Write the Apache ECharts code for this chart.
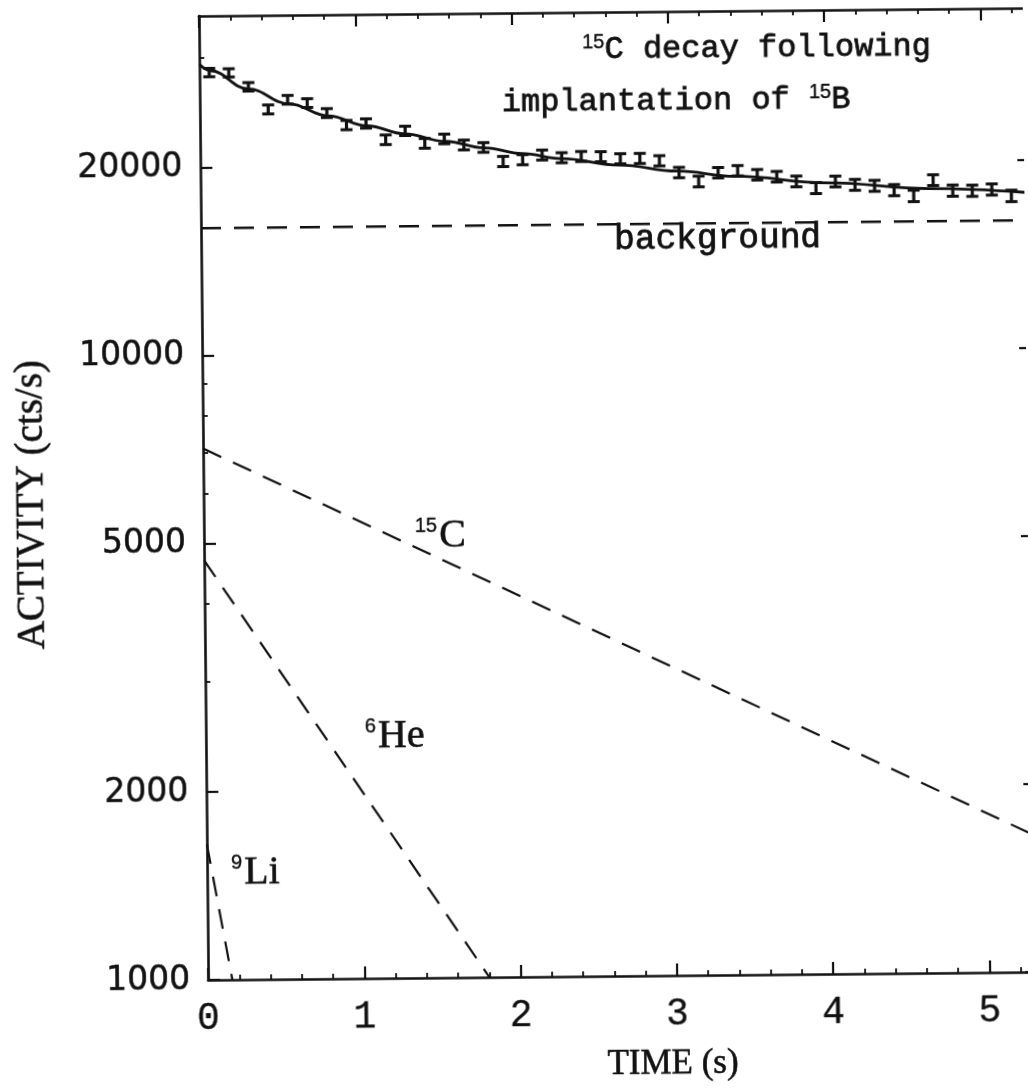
<!DOCTYPE html>
<html><head><meta charset="utf-8">
<script src="https://cdn.jsdelivr.net/npm/echarts@6/dist/echarts.min.js"></script>
<style>
html,body{margin:0;padding:0;background:#fff;overflow:hidden;}
#chart{width:1028px;height:1088px;transform:rotate(-0.55deg);transform-origin:514px 544px;}
</style></head><body><div id="chart"></div>
<script>
// measured data points (bin centres, s) and activity (cts/s) with errors
const times = [0.0625,0.1875,0.3125,0.4375,0.5625,0.6875,0.8125,0.9375,1.0625,1.1875,1.3125,1.4375,1.5625,1.6875,1.8125,1.9375,2.0625,2.1875,2.3125,2.4375,2.5625,2.6875,2.8125,2.9375,3.0625,3.1875,3.3125,3.4375,3.5625,3.6875,3.8125,3.9375,4.0625,4.1875,4.3125,4.4375,4.5625,4.6875,4.8125,4.9375,5.0625,5.1875];
const activity = [28400,28350,26910,24740,25620,25290,24360,23290,23410,22030,22750,21710,22050,21550,21340,20250,20370,20710,20490,20570,20540,20370,20380,20190,19320,18680,19280,19410,19110,18960,18620,18160,18590,18350,18270,17970,17580,18620,17900,17880,17950,17520];
const errors = [440,430,420,410,410,410,400,400,400,390,390,390,390,390,380,380,380,380,380,380,380,380,380,380,370,370,370,370,370,370,370,370,370,370,370,370,370,370,370,370,370,370];
// total fit curve
const fitT = [0,0.07,0.31,0.57,0.82,1.07,1.31,1.57,1.82,2.06,2.31,2.68,3.05,3.42,4.01,4.66,5.33];
const fitV = [29300,28600,26700,25250,24100,23200,22500,21850,21300,20830,20420,19900,19420,19020,18500,18050,17690];
// components (straight lines on the log scale)
const bgT = [0,5.33],   bgV = [16000,16000];
const c15T = [0,5.33],  c15V = [7100,1640];
const he6T = [0,1.80],  he6V = [4700,1000];
const li9T = [0,0.155], li9V = [1650,1000];
// ticks
const xMajor = [0,1,2,3,4,5];
const xMinor = [0.2,0.4,0.6,0.8,1.2,1.4,1.6,1.8,2.2,2.4,2.6,2.8,3.2,3.4,3.6,3.8,4.2,4.4,4.6,4.8,5.2];
const yMajor = [1000,2000,5000,10000,20000];
const yMinor = [3000,4000,6000,7000,8000,9000,30000];

const INK = '#111';
const chart = echarts.init(document.getElementById('chart'), null, {renderer:'canvas'});

function xAx(pos, major, showLine, showLabel){
  return {
    type:'value', min:0, max:5.33, position:pos, interval:1,
    axisLine:{show:showLine, onZero:false, lineStyle:{color:INK, width:2.6}},
    axisTick:{show:true, inside:true, length: major?12:5, customValues: major?xMajor:xMinor, lineStyle:{color:INK, width: major?2.2:1.8}},
    axisLabel:{show:showLabel, customValues:xMajor, fontFamily:'Liberation Mono', fontSize:38, color:INK, margin:20,
               textBorderColor:INK, textBorderWidth:0.3,
               formatter:function(v){return String(v);}},
    splitLine:{show:false}, minorTick:{show:false}
  };
}
function yAx(pos, major, showLine, showLabel){
  return {
    type:'log', logBase:10, min:1000, max:35000, position:pos,
    axisLine:{show:showLine, onZero:false, lineStyle:{color:INK, width:2.6}},
    axisTick:{show:true, inside:true, length: major?(pos==='right'?16:12):5, customValues: major?yMajor:yMinor, lineStyle:{color:INK, width: major?2.2:1.8}},
    axisLabel:{show:showLabel, customValues:yMajor, fontFamily:'DejaVu Sans', fontSize:33, color:INK, margin:18,
               textBorderColor:INK, textBorderWidth:0.5,
               formatter:function(v){return String(Math.round(v));}},
    splitLine:{show:false}, minorTick:{show:false}
  };
}

const dashed = [20,13];
function comp(T, V){ return T.map((t,i)=>[t, V[i]]); }

const B = {stroke:INK, lineWidth:0.8};
const supS = Object.assign({fontFamily:'Liberation Sans', fontSize:20, lineHeight:26, verticalAlign:'top', fill:INK, color:INK}, {stroke:INK, lineWidth:0.4});
const monoM = Object.assign({fontFamily:'Liberation Mono', fontSize:32, lineHeight:36, fill:INK, color:INK}, B);
const monoL = Object.assign({fontFamily:'Liberation Mono', fontSize:34.5, lineHeight:38, fill:INK, color:INK}, B);
const serL = Object.assign({fontFamily:'Liberation Serif', fontSize:40, lineHeight:40, fill:INK, color:INK}, {stroke:INK, lineWidth:0.6});
const supI = Object.assign({fontFamily:'Liberation Sans', fontSize:20, lineHeight:24, verticalAlign:'top', fill:INK, color:INK, padding:[0,2,0,0]}, {stroke:INK, lineWidth:0.4});

function label(x, y, text){
  return {
    type:'text', x:x, y:y, silent:true,
    style:{text:text, rich:{s:supS, m:monoM, l:monoL, r:serL, i:supI}, fill:INK, align:'left', verticalAlign:'middle', textAlign:'left', textVerticalAlign:'middle'}
  };
}

chart.setOption({
  animation:false,
  backgroundColor:'#fff',
  grid:{left:204, top:13, width:833, height:964, containLabel:false, outerBoundsMode:'none'},
  xAxis:[ xAx('bottom',true,true,true), xAx('bottom',false,false,false), xAx('top',true,true,false), xAx('top',false,false,false) ],
  yAxis:[ yAx('left',true,true,true), yAx('left',false,false,false), yAx('right',true,true,false), yAx('right',false,false,false) ],
  series:[
    {type:'line', name:'background', data:comp(bgT,bgV), showSymbol:false, symbol:'none', lineStyle:{color:INK, width:2.4, type:dashed}},
    {type:'line', name:'15C', data:comp(c15T,c15V), showSymbol:false, symbol:'none', lineStyle:{color:INK, width:2.2, type:dashed}},
    {type:'line', name:'6He', data:comp(he6T,he6V), showSymbol:false, symbol:'none', lineStyle:{color:INK, width:2.2, type:dashed}},
    {type:'line', name:'9Li', data:comp(li9T,li9V), showSymbol:false, symbol:'none', lineStyle:{color:INK, width:2.2, type:dashed}},
    {type:'line', name:'fit', data:comp(fitT,fitV), showSymbol:false, symbol:'none', smooth:0.4, smoothMonotone:'x', lineStyle:{color:INK, width:2.8}},
    {type:'custom', name:'data', data: times.map((t,i)=>[t, activity[i], errors[i]]),
      encode:{x:0, y:1}, z:5,
      renderItem:function(params, api){
        const t = api.value(0), v = api.value(1), e = api.value(2);
        const top = api.coord([t, v+e]), bot = api.coord([t, v-e]);
        const w = 6, st = {stroke:INK, lineWidth:3};
        return {type:'group', children:[
          {type:'line', shape:{x1:top[0], y1:top[1], x2:bot[0], y2:bot[1]}, style:{stroke:INK, lineWidth:3.2}},
          {type:'line', shape:{x1:top[0]-w, y1:top[1], x2:top[0]+w, y2:top[1]}, style:st},
          {type:'line', shape:{x1:bot[0]-w, y1:bot[1], x2:bot[0]+w, y2:bot[1]}, style:st}
        ]};
      }
    }
  ],
  graphic:[
    label(587, 51, '{s|15}{m|C decay following}'),
    label(506, 103, '{m|implantation of }{s|15}{m|B}'),
    label(617, 241, '{l|background}'),
    label(415, 535, '{i|15}{r|C}'),
    label(363, 735, '{i|6}{r|He}'),
    label(228, 870, '{i|9}{r|Li}'),
    {type:'text', x:33, y:500, rotation:Math.PI/2, silent:true,
     style:{text:'ACTIVITY (cts/s)', fontFamily:'Liberation Serif', fontSize:39, fill:INK, stroke:INK, lineWidth:0.6, align:'center', verticalAlign:'middle', textAlign:'center', textVerticalAlign:'middle'}},
    {type:'text', x:668, y:1066, silent:true,
     style:{text:'TIME (s)', fontFamily:'Liberation Serif', fontSize:35, fill:INK, stroke:INK, lineWidth:0.6, align:'center', verticalAlign:'middle', textAlign:'center', textVerticalAlign:'middle'}}
  ]
});
</script>
</body></html>
